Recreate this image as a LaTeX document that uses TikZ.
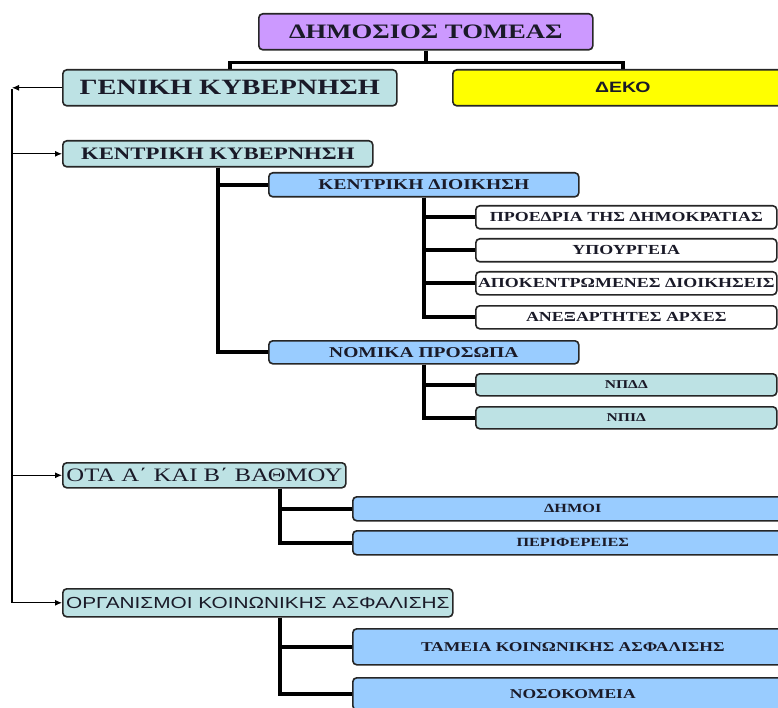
\documentclass[tikz,border=0pt]{standalone}
\usepackage{fontspec}
\setmainfont{Liberation Serif}[FakeStretch=1.3]
\newfontfamily\sansf{Liberation Sans}[FakeStretch=1.3]
\usetikzlibrary{arrows.meta,calc}
\definecolor{violetbox}{HTML}{CC99FF}
\definecolor{tealbox}{HTML}{BDE2E4}
\definecolor{bluebox}{HTML}{99CCFF}
\definecolor{yellowbox}{HTML}{FFFF00}
\definecolor{txt}{HTML}{1A1A28}
\newcommand{\fs}[1]{\fontsize{#1}{#1}\selectfont}
\newcommand{\ctext}[1]{\makebox[0pt][c]{#1}}
\tikzset{
  box/.style={draw=black!85, line width=1.6pt, rounded corners=4pt, anchor=north west,
    inner sep=0pt, text=txt, font=\bfseries},
  tree/.style={line width=3.8pt, draw=black},
  leftline/.style={line width=2pt, draw=black},
  arr/.style={line width=1pt, draw=black, -{Latex[length=7pt,width=6pt]}},
}
\newcommand{\bx}[7]{% name, x1,y1,x2,y2, style, text
  \node[box,#6, minimum width={#4-#2}, minimum height={#5-#3}] (#1) at (#2,#3) {\ctext{#7}};}
\begin{document}
\begin{tikzpicture}[x=1pt,y=-1pt]
\useasboundingbox (0,0) rectangle (778,708);
\clip (0,0) rectangle (778,708);
% level 1-2
\bx{dt}{258}{13}{592}{49}{fill=violetbox,font=\bfseries\fs{20.5}}{ΔΗΜΟΣΙΟΣ ΤΟΜΕΑΣ}
\bx{gk}{62}{69}{396}{105}{fill=tealbox,font=\bfseries\fs{21.8}}{ΓΕΝΙΚΗ ΚΥΒΕΡΝΗΣΗ}
\bx{deko}{452}{69}{792}{105}{fill=yellowbox,font=\sansf\bfseries\fs{15}}{ΔΕΚΟ}
% central government
\bx{kk}{62}{140}{372}{166}{fill=tealbox,font=\bfseries\fs{17.5}}{ΚΕΝΤΡΙΚΗ ΚΥΒΕΡΝΗΣΗ}
\bx{kd}{268}{172}{578}{196}{fill=bluebox,font=\bfseries\fs{15}}{ΚΕΝΤΡΙΚΗ ΔΙΟΙΚΗΣΗ}
\bx{p1}{475}{205}{776}{228}{fill=white,font=\bfseries\fs{13.8}}{ΠΡΟΕΔΡΙΑ ΤΗΣ ΔΗΜΟΚΡΑΤΙΑΣ}
\bx{p2}{475}{238}{776}{261}{fill=white,font=\bfseries\fs{13.8}}{ΥΠΟΥΡΓΕΙΑ}
\bx{p3}{475}{271}{776}{294}{fill=white,font=\bfseries\fs{13.8}}{ΑΠΟΚΕΝΤΡΩΜΕΝΕΣ ΔΙΟΙΚΗΣΕΙΣ}
\bx{p4}{475}{305}{776}{328}{fill=white,font=\bfseries\fs{13.8}}{ΑΝΕΞΑΡΤΗΤΕΣ ΑΡΧΕΣ}
\bx{np}{268}{340}{578}{363}{fill=bluebox,font=\bfseries\fs{15}}{ΝΟΜΙΚΑ ΠΡΟΣΩΠΑ}
\bx{n1}{475}{373}{776}{395}{fill=tealbox,font=\bfseries\fs{12}}{ΝΠΔΔ}
\bx{n2}{475}{406}{776}{428}{fill=tealbox,font=\bfseries\fs{12}}{ΝΠΙΔ}
% local government
\bx{ota}{62}{462}{345}{487}{fill=tealbox,font=\mdseries\fs{19}}{ΟΤΑ Α΄ ΚΑΙ Β΄ ΒΑΘΜΟΥ}
\bx{d1}{352}{496}{792}{520}{fill=bluebox,font=\bfseries\fs{12.5}}{ΔΗΜΟΙ}
\bx{d2}{352}{530}{792}{554}{fill=bluebox,font=\bfseries\fs{12.5}}{ΠΕΡΙΦΕΡΕΙΕΣ}
% social security
\bx{oks}{62}{588}{452}{616}{fill=tealbox,font=\sansf\mdseries\fs{16}}{ΟΡΓΑΝΙΣΜΟΙ ΚΟΙΝΩΝΙΚΗΣ ΑΣΦΑΛΙΣΗΣ}
\bx{t1}{352}{628}{792}{664}{fill=bluebox,font=\bfseries\fs{13.5}}{ΤΑΜΕΙΑ ΚΟΙΝΩΝΙΚΗΣ ΑΣΦΑΛΙΣΗΣ}
\bx{t2}{352}{677}{792}{709}{fill=bluebox,font=\bfseries\fs{13.5}}{ΝΟΣΟΚΟΜΕΙΑ}
% top connector
\draw[tree] (dt.south) -- ++(0,12) coordinate (j);
\draw[tree] (j) -| (gk.north);
\draw[tree] (j) -| (deko.north);
% central government tree
\draw[tree] (kk.south) |- (kd.west);
\draw[tree] (kk.south) |- (np.west);
\foreach \t in {p1,p2,p3,p4} \draw[tree] (kd.south) |- (\t.west);
\foreach \t in {n1,n2} \draw[tree] (np.south) |- (\t.west);
% local government
\coordinate (otab) at ($(ota.south west)+(218,0)$);
\foreach \t in {d1,d2} \draw[tree] (otab) |- (\t.west);
\coordinate (oksb) at ($(oks.south west)+(218,0)$);
\foreach \t in {t1,t2} \draw[tree] (oksb) |- (\t.west);
% left bus
\coordinate (L) at (12,0);
\draw[arr] (gk.west) -- (gk.west -| L);
\draw[leftline] ([yshift=-1pt]gk.west -| L) -- (oks.west -| L);
\draw[arr] ([xshift=-1pt]oks.west -| L) -- (oks.west);
\draw[arr] (kk.west -| L) -- (kk.west);
\draw[arr] (ota.west -| L) -- (ota.west);
\end{tikzpicture}
\end{document}
